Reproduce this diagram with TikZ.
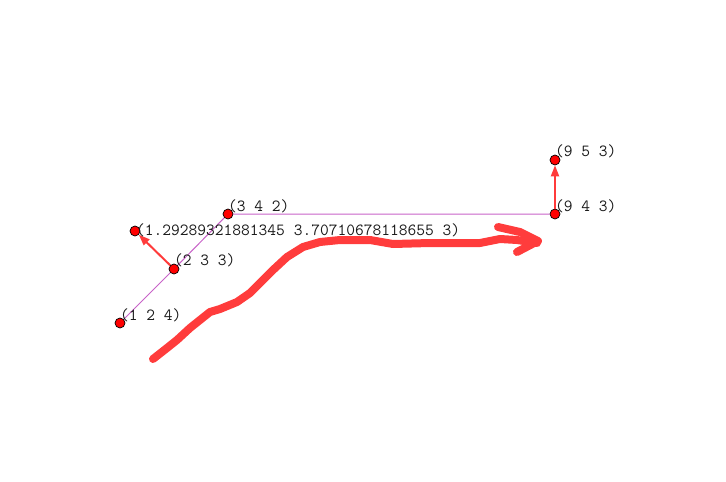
\documentclass[tikz,border=0pt]{standalone}
\usepackage{xcolor}
\usepackage{tikz}
\usetikzlibrary{arrows.meta}
\definecolor{figdot}{HTML}{FF0000}
\definecolor{figpath}{HTML}{C862C8}
\definecolor{figarrow}{HTML}{FF3B3B}
\definecolor{figmark}{HTML}{FF3C3C}
\definecolor{figink}{HTML}{1A1A1A}
\tikzset{
  pt/.style={circle,fill=figdot,draw=black,line width=0.7pt,minimum size=10pt,inner sep=0pt},
  lab/.style={anchor=west,inner sep=0pt,text=figink,font=\fontsize{17}{19}\selectfont\ttfamily},
  seg/.style={figpath,line width=1pt},
  vec/.style={figarrow,line width=2pt,-{Triangle[length=11pt,width=8pt]}},
  scribble/.style={figmark,line width=8pt,line cap=round,line join=round}
}

\begin{document}
\begin{tikzpicture}[x=1pt,y=-1pt]
    \useasboundingbox (0,0) rectangle (726,482);
    \foreach \n/\x/\y in {p124/120/323,p233/174/269,p342/228/214,pq/135/231,p943/555/214,p953/555/160} {
      \node[pt] (\n) at (\x,\y) {};
    }
    \draw[seg] (p124) -- (p233) -- (p342) -- (p943);
    \draw[vec] (p233) -- (pq);
    \draw[vec] (p943) -- (p953);
    \node[lab] (l124) at (120,315) {(1 2 4)};
    \node[lab] (l233) at (174,260) {(2 3 3)};
    \node[lab] (l342) at (228,206) {(3 4 2)};
    \node[lab] (lq) at (136,230) {(1.29289321881345 3.70710678118655 3)};
    \node[lab] (l943) at (555,206) {(9 4 3)};
    \node[lab] (l953) at (555,151) {(9 5 3)};
    \draw[scribble] (153,359) -- (167,348) -- (177,340) -- (190,328) -- (200,320) -- (210,312)
      -- (220,309) -- (237,302) -- (250,293) -- (260,283) -- (273,270) -- (287,257) -- (303,247)
      -- (320,242) -- (340,240) -- (370,240) -- (393,244) -- (430,243) -- (480,243) -- (500,239)
      -- (517,240) -- (537,243);
    \draw[scribble] (498,227) -- (520,232) -- (538,241) -- (517,252);
  \end{tikzpicture}
\end{document}
